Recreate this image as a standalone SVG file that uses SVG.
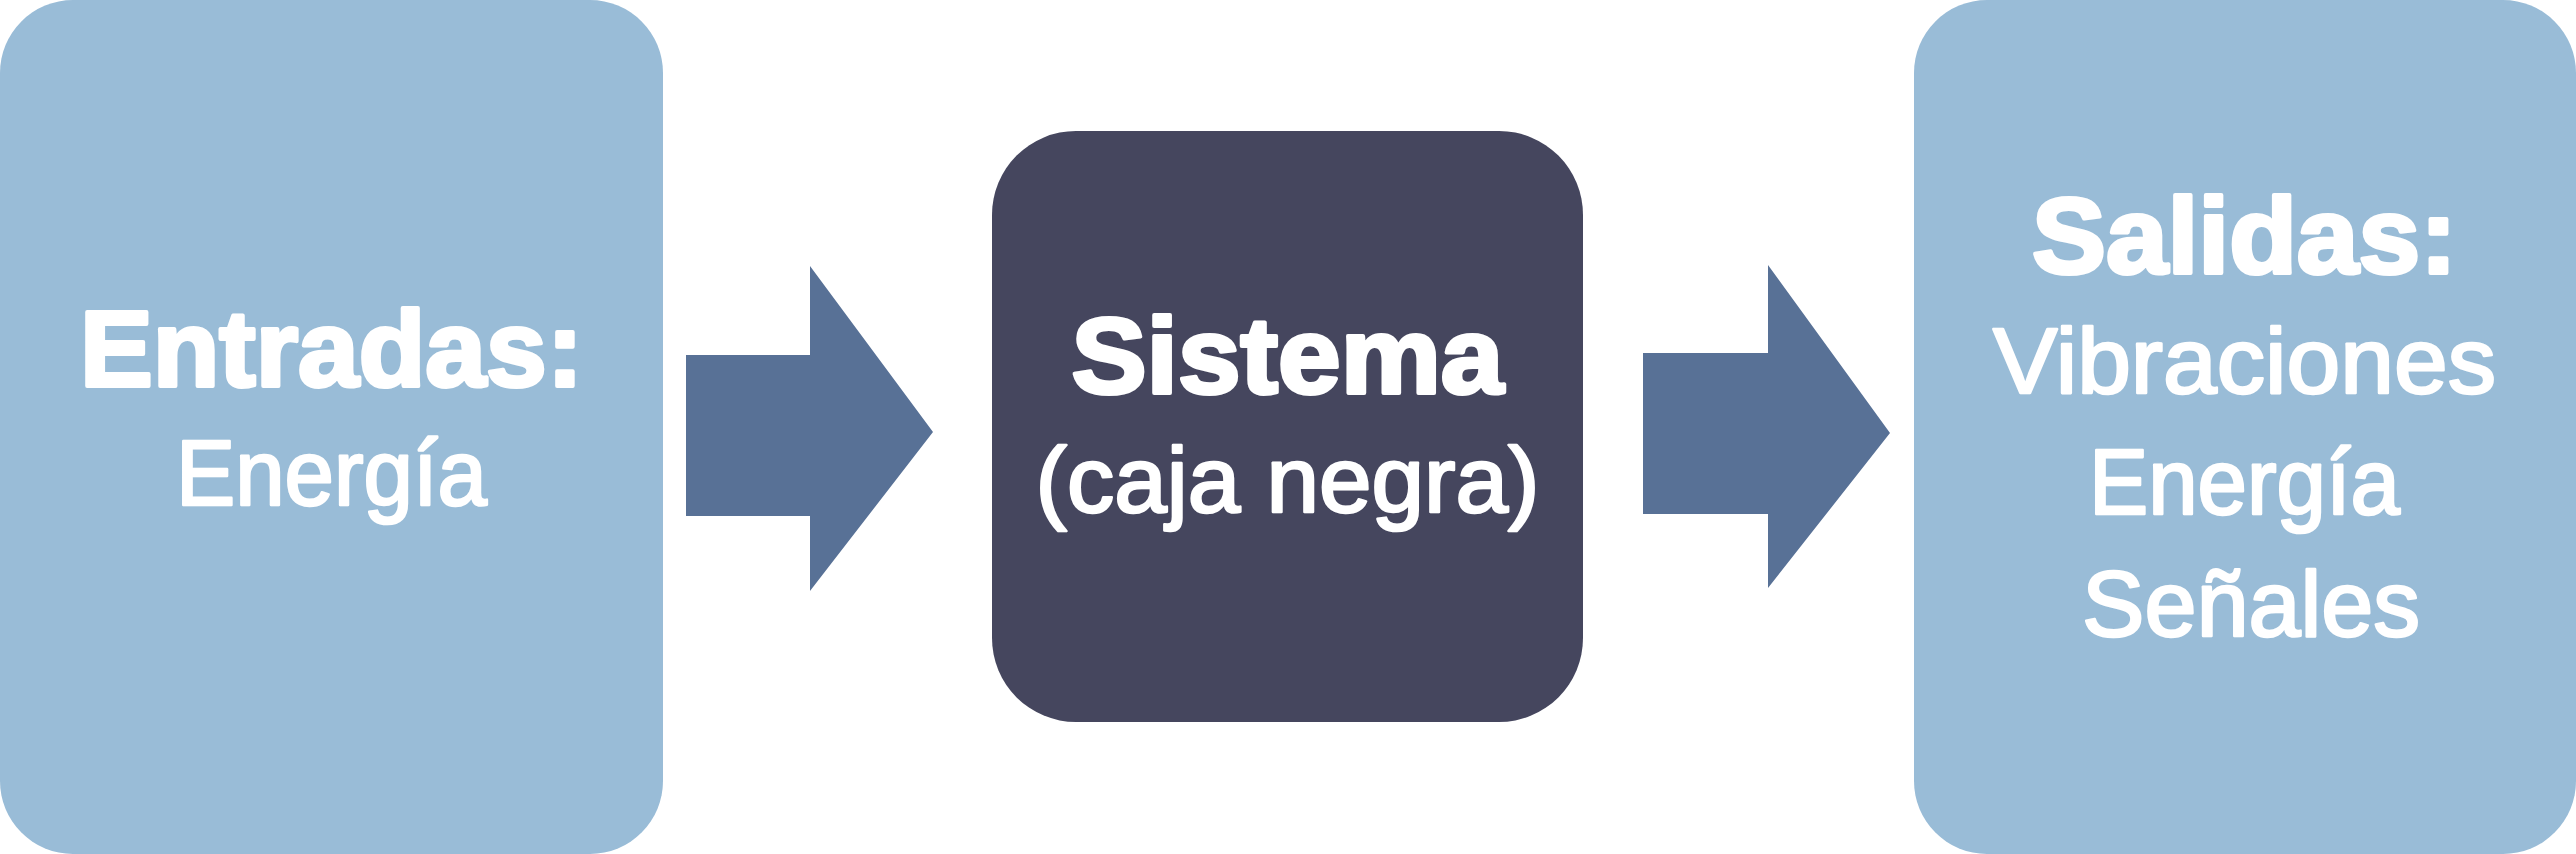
<svg xmlns="http://www.w3.org/2000/svg" width="2576" height="854" viewBox="0 0 2576 854">
<style>
.light{fill:#99BCD7}
.dark{fill:#45465E}
.arrow{fill:#587196}
.title{font-family:"Liberation Sans",Arial,sans-serif;font-weight:bold;font-size:107px;fill:#FFFFFF;stroke:#FFFFFF;stroke-width:4;stroke-linejoin:round;text-anchor:middle}
.body{font-family:"Liberation Sans",Arial,sans-serif;font-weight:normal;font-size:92px;fill:#FFFFFF;stroke:#FFFFFF;stroke-width:2.6;stroke-linejoin:round;text-anchor:middle}
</style>
<rect width="2576" height="854" fill="#FFFFFF"/>
<g id="entradas">
<rect class="light" x="0" y="0" width="663" height="854" rx="73" ry="73"/>
<text class="title" x="331.5" y="386" textLength="503" lengthAdjust="spacingAndGlyphs">Entradas:</text>
<text class="body" x="331.5" y="505" textLength="311" lengthAdjust="spacingAndGlyphs">Energía</text>
</g>
<g id="sistema">
<rect class="dark" x="992" y="131" width="591" height="591" rx="84" ry="84"/>
<text class="title" x="1287.5" y="393" textLength="432" lengthAdjust="spacingAndGlyphs">Sistema</text>
<text class="body" x="1287.5" y="512" textLength="504" lengthAdjust="spacingAndGlyphs">(caja negra)</text>
</g>
<g id="salidas">
<rect class="light" x="1914" y="0" width="662" height="854" rx="73" ry="73"/>
<text class="title" x="2244.5" y="273" textLength="425" lengthAdjust="spacingAndGlyphs">Salidas:</text>
<text class="body" x="2244.5" y="393" textLength="503" lengthAdjust="spacingAndGlyphs">Vibraciones</text>
<text class="body" x="2244.5" y="514" textLength="311" lengthAdjust="spacingAndGlyphs">Energía</text>
<text class="body" x="2251" y="636" textLength="338" lengthAdjust="spacingAndGlyphs">Señales</text>
</g>
<g id="connectors">
<path class="arrow" d="M686,355 H810 V266 L933,432 L810,591 V516 H686 Z"/>
<path class="arrow" d="M1643,353 H1768 V265 L1890,433 L1768,588 V514 H1643 Z"/>
</g>
</svg>
